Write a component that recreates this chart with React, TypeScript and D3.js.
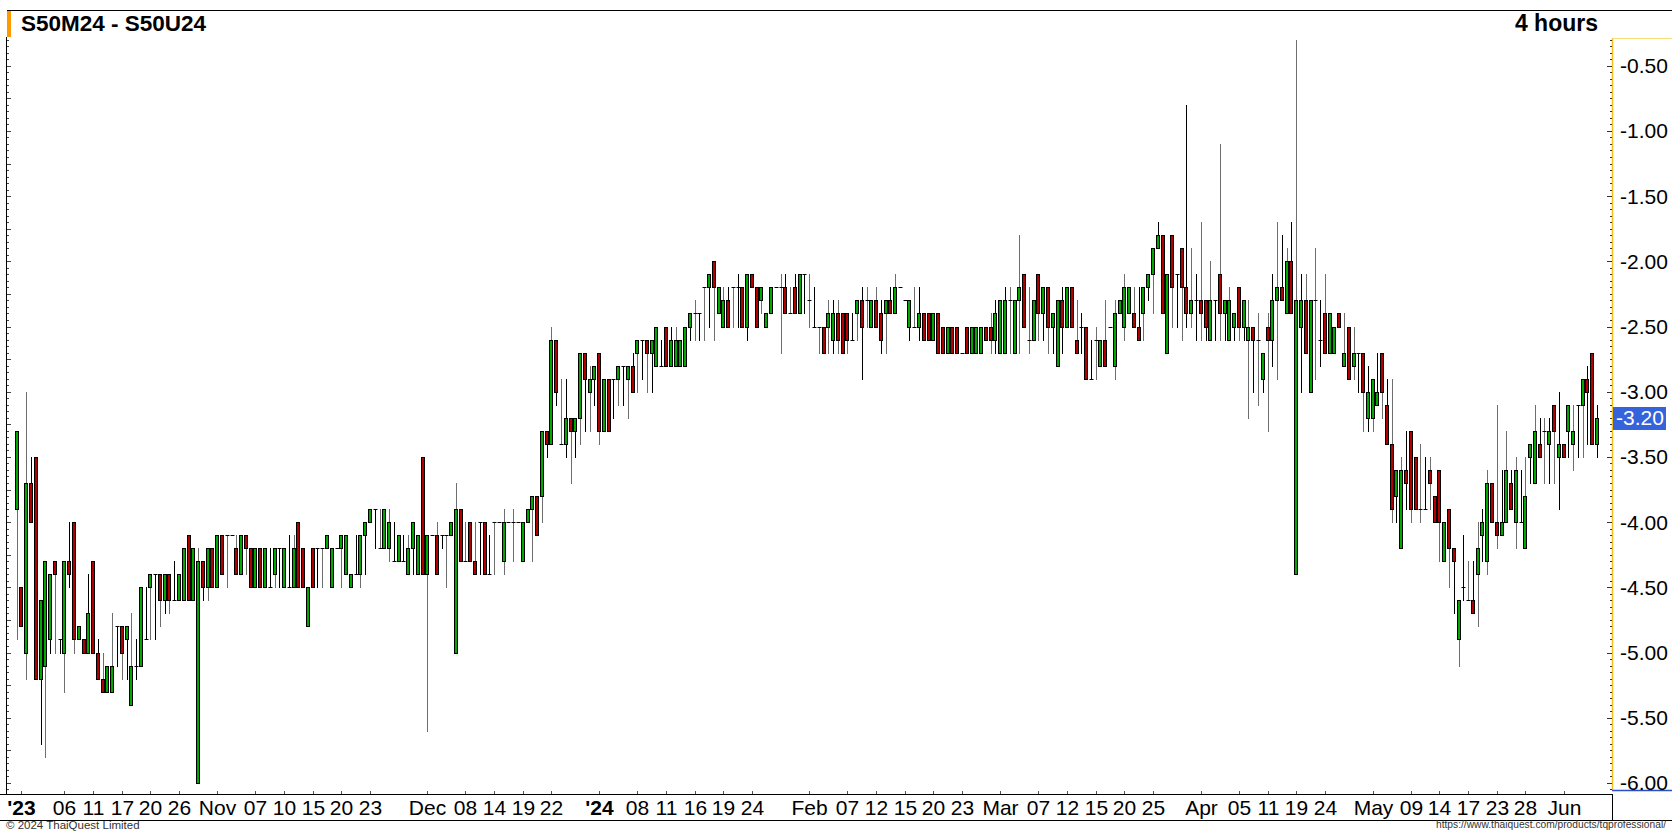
import React, { useEffect, useRef } from 'react';
import * as d3 from 'd3';

// 4-hour bars, S50M24 - S50U24 spread
const opens = [
  -3.9, -4.5, -5.0, -3.7, -3.5, -5.2, -5.1, -4.9, -4.3, -4.9,
  -5.0, -4.3, -4.0, -4.9, -4.9, -5.0, -4.3, -5.0, -5.2, -5.3,
  -5.3, -4.8, -4.8, -4.9, -5.4, -5.1, -5.1, -4.9, -4.5, -4.4,
  -4.4, -4.6, -4.4, -4.6, -4.6, -4.6, -4.1, -4.6, -6.0, -4.3,
  -4.5, -4.2, -4.5, -4.1, -4.1, -4.1, -4.2, -4.4, -4.1, -4.2,
  -4.5, -4.2, -4.5, -4.5, -4.4, -4.2, -4.5, -4.5, -4.5, -4.0,
  -4.2, -4.8, -4.2, -4.2, -4.2, -4.2, -4.5, -4.2, -4.2, -4.4,
  -4.5, -4.4, -4.4, -4.1, -4.0, -3.9, -4.2, -4.2, -4.2, -4.3,
  -4.3, -4.3, -4.4, -4.2, -4.4, -3.5, -4.4, -4.1, -4.1, -4.1,
  -4.1, -4.1, -5.0, -3.9, -4.3, -4.0, -4.3, -4.0, -4.0, -4.4,
  -4.0, -4.0, -4.3, -4.0, -4.0, -4.0, -4.3, -4.0, -3.9, -3.8,
  -3.8, -3.3, -3.4, -2.6, -3.4, -3.4, -3.2, -3.3, -3.2, -2.7,
  -3.0, -2.9, -2.7, -3.3, -2.9, -2.9, -2.9, -2.8, -2.9, -2.8,
  -2.7, -2.6, -2.6, -2.7, -2.8, -2.8, -2.5, -2.8, -2.8, -2.8,
  -2.8, -2.5, -2.4, -2.4, -2.2, -2.2, -2.0, -2.4, -2.5, -2.3,
  -2.2, -2.2, -2.2, -2.5, -2.1, -2.2, -2.3, -2.5, -2.4, -2.2,
  -2.2, -2.2, -2.4, -2.2, -2.4, -2.1, -2.3, -2.5, -2.5, -2.5,
  -2.5, -2.6, -2.4, -2.4, -2.4, -2.6, -2.4, -2.3, -2.3, -2.5,
  -2.3, -2.4, -2.4, -2.3, -2.4, -2.2, -2.3, -2.5, -2.5, -2.5,
  -2.4, -2.4, -2.6, -2.4, -2.5, -2.7, -2.5, -2.5, -2.7, -2.5,
  -2.7, -2.7, -2.7, -2.5, -2.5, -2.6, -2.7, -2.7, -2.3, -2.7,
  -2.3, -2.1, -2.6, -2.6, -2.1, -2.4, -2.2, -2.5, -2.8, -2.3,
  -2.5, -2.2, -2.6, -2.5, -2.5, -2.9, -2.6, -2.8, -2.6, -2.5,
  -2.8, -2.4, -2.5, -2.4, -2.4, -2.5, -2.4, -2.2, -2.1, -1.9,
  -1.8, -2.7, -1.8, -2.1, -1.9, -2.2, -2.4, -2.3, -2.3, -2.3,
  -2.6, -2.3, -2.1, -2.4, -2.6, -2.5, -2.2, -2.5, -2.6, -2.5,
  -2.6, -2.9, -2.5, -2.6, -2.3, -2.2, -2.4, -2.0, -4.4, -2.5,
  -2.3, -3.0, -2.3, -2.6, -2.4, -2.7, -2.7, -2.4, -2.8, -2.5,
  -2.8, -2.7, -2.7, -3.2, -3.2, -3.1, -2.7, -3.1, -3.4, -3.8,
  -4.2, -3.6, -3.3, -3.5, -3.9, -3.9, -3.6, -3.8, -3.6, -4.3,
  -3.9, -4.2, -4.9, -4.5, -4.6, -4.6, -4.4, -4.1, -4.3, -3.7,
  -4.0, -4.1, -4.0, -3.7, -4.0, -4.0, -4.2, -3.5, -3.7, -3.4,
  -3.3, -3.4, -3.1, -3.5, -3.4, -3.3, -3.4, -3.1, -3.1, -2.9,
  -2.7, -3.4,
];

const highs = [
  -3.3, -4.5, -3.0, -3.5, -3.5, -4.6, -4.3, -4.4, -4.3, -4.9,
  -4.3, -4.0, -4.0, -4.8, -4.9, -4.4, -4.3, -4.9, -5.0, -5.1,
  -4.7, -4.8, -4.8, -4.8, -4.7, -4.9, -4.5, -4.5, -4.4, -4.4,
  -4.4, -4.4, -4.4, -4.3, -4.4, -4.2, -4.1, -4.2, -4.2, -4.3,
  -4.2, -4.2, -4.1, -4.1, -4.1, -4.1, -4.1, -4.1, -4.1, -4.2,
  -4.2, -4.2, -4.2, -4.2, -4.2, -4.2, -4.2, -4.1, -4.1, -4.0,
  -4.2, -4.5, -4.2, -4.2, -4.2, -4.1, -4.2, -4.2, -4.1, -4.1,
  -4.4, -4.1, -4.1, -4.0, -3.9, -3.9, -3.9, -3.9, -3.9, -4.0,
  -4.1, -4.1, -4.1, -4.0, -4.1, -3.5, -4.1, -4.1, -4.0, -4.1,
  -4.1, -4.0, -3.7, -3.9, -4.0, -4.0, -4.0, -4.0, -4.0, -4.1,
  -4.0, -4.0, -3.9, -4.0, -3.9, -4.0, -4.0, -3.9, -3.8, -3.8,
  -3.3, -3.3, -2.5, -2.6, -2.9, -2.9, -3.2, -3.2, -2.7, -2.7,
  -2.8, -2.8, -2.7, -2.9, -2.9, -2.9, -2.8, -2.8, -2.8, -2.7,
  -2.6, -2.6, -2.6, -2.6, -2.5, -2.6, -2.5, -2.5, -2.5, -2.6,
  -2.5, -2.4, -2.3, -2.4, -2.2, -2.1, -2.0, -2.2, -2.2, -2.2,
  -2.2, -2.1, -2.2, -2.1, -2.1, -2.2, -2.2, -2.4, -2.2, -2.2,
  -2.1, -2.1, -2.2, -2.1, -2.1, -2.1, -2.1, -2.2, -2.5, -2.5,
  -2.3, -2.3, -2.3, -2.4, -2.4, -2.4, -2.3, -2.2, -2.2, -2.3,
  -2.2, -2.3, -2.3, -2.2, -2.1, -2.2, -2.3, -2.3, -2.2, -2.2,
  -2.4, -2.4, -2.4, -2.4, -2.5, -2.5, -2.5, -2.5, -2.7, -2.5,
  -2.5, -2.5, -2.5, -2.5, -2.4, -2.3, -2.3, -2.2, -2.2, -2.3,
  -1.8, -2.1, -2.2, -2.3, -2.1, -2.2, -2.2, -2.4, -2.3, -2.2,
  -2.2, -2.2, -2.3, -2.4, -2.5, -2.6, -2.5, -2.6, -2.3, -2.5,
  -2.3, -2.3, -2.1, -2.2, -2.2, -2.2, -2.2, -2.1, -1.9, -1.7,
  -1.8, -2.1, -1.8, -2.1, -1.9, -0.8, -1.9, -2.1, -1.7, -2.3,
  -2.0, -2.3, -1.1, -2.3, -2.2, -2.4, -2.2, -2.3, -2.3, -2.5,
  -2.4, -2.7, -2.4, -2.1, -1.7, -1.8, -1.9, -1.7, -0.3, -2.1,
  -2.1, -2.3, -1.9, -2.3, -2.1, -2.4, -2.5, -2.4, -2.4, -2.5,
  -2.5, -2.7, -2.7, -2.8, -2.9, -2.7, -2.7, -2.9, -2.9, -3.6,
  -3.5, -3.3, -3.3, -3.5, -3.4, -3.5, -3.5, -3.8, -3.6, -4.0,
  -3.9, -4.2, -4.6, -4.1, -4.3, -4.3, -4.0, -3.9, -3.6, -3.7,
  -3.1, -3.6, -3.3, -3.6, -3.5, -3.6, -3.5, -3.4, -3.1, -3.2,
  -3.2, -3.2, -3.1, -3.0, -3.4, -3.1, -3.1, -3.1, -2.9, -2.8,
  -2.7, -3.1,
];

const lows = [
  -4.9, -4.8, -5.2, -4.0, -5.2, -5.7, -5.8, -5.0, -5.0, -5.0,
  -5.3, -4.5, -5.0, -4.9, -5.0, -5.0, -5.0, -5.2, -5.3, -5.3,
  -5.3, -5.1, -5.2, -5.2, -5.4, -5.2, -5.1, -4.9, -4.9, -4.9,
  -4.8, -4.7, -4.7, -4.6, -4.6, -4.6, -4.6, -4.6, -6.0, -4.6,
  -4.6, -4.5, -4.5, -4.4, -4.5, -4.1, -4.4, -4.4, -4.4, -4.5,
  -4.5, -4.5, -4.5, -4.5, -4.5, -4.5, -4.5, -4.5, -4.5, -4.5,
  -4.5, -4.8, -4.5, -4.5, -4.5, -4.2, -4.5, -4.2, -4.5, -4.4,
  -4.5, -4.4, -4.5, -4.4, -4.0, -4.2, -4.2, -4.2, -4.3, -4.3,
  -4.3, -4.3, -4.4, -4.4, -4.4, -4.4, -5.6, -4.1, -4.4, -4.2,
  -4.5, -4.1, -5.0, -4.3, -4.3, -4.3, -4.4, -4.4, -4.4, -4.4,
  -4.4, -4.0, -4.4, -4.0, -4.3, -4.0, -4.3, -4.0, -4.3, -4.1,
  -4.0, -3.5, -3.4, -3.1, -3.4, -3.5, -3.7, -3.5, -3.4, -3.3,
  -3.3, -3.1, -3.4, -3.3, -3.3, -3.2, -3.1, -3.1, -3.2, -3.0,
  -3.0, -2.9, -3.0, -3.0, -2.8, -2.8, -2.8, -2.8, -2.8, -2.8,
  -2.8, -2.6, -2.6, -2.6, -2.6, -2.5, -2.6, -2.4, -2.5, -2.5,
  -2.5, -2.5, -2.5, -2.6, -2.2, -2.5, -2.4, -2.5, -2.4, -2.2,
  -2.7, -2.4, -2.4, -2.4, -2.4, -2.4, -2.5, -2.5, -2.7, -2.7,
  -2.7, -2.7, -2.7, -2.7, -2.7, -2.6, -2.6, -2.9, -2.5, -2.5,
  -2.5, -2.7, -2.7, -2.4, -2.4, -2.2, -2.3, -2.6, -2.5, -2.6,
  -2.6, -2.6, -2.6, -2.7, -2.7, -2.7, -2.7, -2.7, -2.7, -2.7,
  -2.7, -2.7, -2.7, -2.6, -2.7, -2.7, -2.7, -2.7, -2.7, -2.7,
  -2.7, -2.5, -2.7, -2.6, -2.6, -2.6, -2.7, -2.7, -2.8, -2.7,
  -2.5, -2.5, -2.7, -2.7, -2.9, -2.9, -2.9, -2.8, -2.8, -2.5,
  -2.9, -2.4, -2.6, -2.4, -2.5, -2.6, -2.6, -2.3, -2.4, -1.9,
  -2.4, -2.7, -2.5, -2.5, -2.6, -2.5, -2.5, -2.6, -2.6, -2.6,
  -2.6, -2.6, -2.6, -2.6, -2.6, -2.6, -2.6, -2.6, -3.2, -3.0,
  -3.1, -3.0, -3.3, -2.8, -2.9, -2.3, -2.4, -2.4, -4.4, -3.0,
  -2.7, -3.0, -2.9, -2.8, -2.7, -2.7, -2.7, -2.5, -2.8, -2.9,
  -2.9, -3.0, -3.3, -3.3, -3.3, -3.1, -3.2, -3.4, -4.0, -4.0,
  -4.2, -3.9, -4.0, -3.9, -4.0, -3.9, -3.9, -4.0, -4.3, -4.3,
  -4.5, -4.7, -5.1, -4.6, -4.6, -4.7, -4.8, -4.3, -4.4, -4.0,
  -4.2, -4.1, -4.0, -3.9, -4.2, -4.0, -4.2, -3.7, -3.7, -3.5,
  -3.7, -3.7, -3.7, -3.9, -3.5, -3.5, -3.6, -3.5, -3.5, -3.4,
  -3.4, -3.5,
];

const closes = [
  -3.3, -4.8, -3.7, -4.0, -5.2, -4.6, -4.3, -4.4, -4.4, -4.9,
  -4.3, -4.4, -4.9, -4.8, -5.0, -4.7, -5.0, -5.2, -5.3, -5.1,
  -5.1, -4.8, -5.0, -4.8, -5.1, -5.1, -4.5, -4.9, -4.4, -4.4,
  -4.6, -4.4, -4.6, -4.6, -4.4, -4.2, -4.6, -4.2, -4.3, -4.5,
  -4.2, -4.5, -4.1, -4.4, -4.1, -4.1, -4.4, -4.1, -4.2, -4.5,
  -4.2, -4.5, -4.2, -4.5, -4.2, -4.2, -4.2, -4.5, -4.2, -4.5,
  -4.5, -4.5, -4.5, -4.2, -4.2, -4.1, -4.2, -4.2, -4.1, -4.1,
  -4.4, -4.4, -4.1, -4.0, -3.9, -3.9, -4.2, -3.9, -4.0, -4.3,
  -4.1, -4.3, -4.2, -4.0, -4.1, -4.4, -4.1, -4.1, -4.4, -4.1,
  -4.1, -4.0, -3.9, -4.3, -4.3, -4.3, -4.4, -4.0, -4.4, -4.4,
  -4.0, -4.0, -4.0, -4.0, -4.0, -4.0, -4.0, -3.9, -3.8, -4.1,
  -3.3, -3.4, -2.6, -3.0, -3.4, -3.2, -3.3, -3.2, -2.7, -2.9,
  -2.9, -2.8, -3.3, -2.9, -3.3, -2.9, -2.8, -2.8, -2.8, -3.0,
  -2.6, -2.6, -2.7, -2.6, -2.5, -2.8, -2.8, -2.6, -2.6, -2.6,
  -2.5, -2.4, -2.4, -2.4, -2.2, -2.1, -2.2, -2.2, -2.3, -2.5,
  -2.2, -2.2, -2.5, -2.1, -2.2, -2.5, -2.2, -2.4, -2.2, -2.2,
  -2.2, -2.4, -2.4, -2.4, -2.1, -2.1, -2.3, -2.5, -2.5, -2.7,
  -2.4, -2.4, -2.6, -2.7, -2.6, -2.6, -2.3, -2.5, -2.3, -2.3,
  -2.5, -2.6, -2.3, -2.4, -2.2, -2.2, -2.3, -2.3, -2.5, -2.4,
  -2.6, -2.6, -2.4, -2.7, -2.7, -2.5, -2.7, -2.7, -2.7, -2.7,
  -2.5, -2.5, -2.5, -2.6, -2.6, -2.4, -2.3, -2.3, -2.3, -2.3,
  -2.2, -2.5, -2.6, -2.3, -2.4, -2.2, -2.5, -2.4, -2.3, -2.5,
  -2.2, -2.5, -2.7, -2.5, -2.9, -2.9, -2.6, -2.6, -2.8, -2.5,
  -2.4, -2.3, -2.2, -2.2, -2.5, -2.6, -2.2, -2.1, -1.9, -1.8,
  -2.4, -2.1, -2.2, -2.1, -2.2, -2.4, -2.3, -2.3, -2.4, -2.5,
  -2.3, -2.3, -2.4, -2.3, -2.3, -2.4, -2.5, -2.3, -2.5, -2.6,
  -2.6, -2.7, -2.6, -2.3, -2.2, -2.3, -2.0, -2.4, -2.3, -2.3,
  -2.7, -2.3, -2.3, -2.6, -2.7, -2.4, -2.5, -2.5, -2.7, -2.9,
  -2.7, -2.7, -3.0, -3.0, -2.9, -3.0, -3.0, -3.4, -3.9, -3.6,
  -3.6, -3.7, -3.9, -3.9, -3.9, -3.9, -3.7, -4.0, -4.0, -4.0,
  -4.2, -4.3, -4.6, -4.5, -4.6, -4.7, -4.2, -4.0, -3.7, -4.0,
  -4.1, -4.0, -3.6, -3.9, -3.6, -4.0, -3.8, -3.4, -3.3, -3.5,
  -3.3, -3.3, -3.3, -3.4, -3.5, -3.1, -3.3, -3.1, -2.9, -3.0,
  -3.4, -3.2,
];

// date labels on the time axis, placed at the bar index they belong to
const xTickIdx = [
  1, 10, 16, 22, 28, 34, 42, 50, 56, 62, 68, 74, 86, 94, 100, 106, 112,
  122, 130, 136, 142, 148, 154, 166, 174, 180, 186, 192, 198, 206, 214,
  220, 226, 232, 238, 248, 256, 262, 268, 274, 284, 292, 298, 304, 310,
  316, 324,
];
const xTickLabels = [
  "'23", '06', '11', '17', '20', '26', 'Nov', '07', '10', '15', '20', '23',
  'Dec', '08', '14', '19', '22', "'24", '08', '11', '16', '19', '24', 'Feb',
  '07', '12', '15', '20', '23', 'Mar', '07', '12', '15', '20', '25', 'Apr',
  '05', '11', '19', '24', 'May', '09', '14', '17', '23', '28', 'Jun',
];

const yTickValues = [-0.5, -1.0, -1.5, -2.0, -2.5, -3.0, -3.5, -4.0, -4.5, -5.0, -5.5, -6.0];

const W = 1672;
const H = 832;
const FONT = '"Liberation Sans", Arial, sans-serif';

const App: React.FC = () => {
  const ref = useRef<SVGSVGElement>(null);

  useEffect(() => {
    if (!ref.current) return;
    const svg = d3.select(ref.current);
    svg.selectAll('*').remove();

    const plotL = 7;
    const plotR = 1612;
    const plotT = 38;
    const plotB = 790;
    const axisY = 794;

    const n = closes.length;
    const x = d3.scaleLinear().domain([0, n - 1]).range([16.7, 1597]);
    const y = d3.scaleLinear().domain([-3, -6]).range([391.7, 782.9]);
    const px = (v: number) => Math.round(v) + 0.5;

    svg.append('rect').attr('width', W).attr('height', H).attr('fill', '#fff');

    // frame
    svg.append('line')
      .attr('x1', plotL).attr('x2', W).attr('y1', 10.5).attr('y2', 10.5)
      .attr('stroke', '#000');
    svg.append('rect')
      .attr('x', 7).attr('y', 11).attr('width', 4).attr('height', 26)
      .attr('fill', '#ff9900');
    svg.append('line')
      .attr('x1', 6.5).attr('x2', 6.5).attr('y1', 37).attr('y2', axisY)
      .attr('stroke', '#000');

    // left axis ticks
    const minor = d3.range(-0.3, -6.06, -0.05);
    minor.forEach(v => {
      const k = Math.round(v * 100);
      const major = k % 25 === 0;
      svg.append('line')
        .attr('x1', 7).attr('x2', 7 + (major ? 4 : 2))
        .attr('y1', px(y(v))).attr('y2', px(y(v)))
        .attr('stroke', '#444');
    });

    // right axis
    svg.append('line')
      .attr('x1', plotR + 0.5).attr('x2', plotR + 0.5).attr('y1', plotT).attr('y2', plotB)
      .attr('stroke', '#f2c01e').attr('stroke-width', 1.5);
    svg.append('line')
      .attr('x1', plotR).attr('x2', W).attr('y1', plotT + 0.5).attr('y2', plotT + 0.5)
      .attr('stroke', '#f7dc7a');
    svg.append('line')
      .attr('x1', plotR).attr('x2', W).attr('y1', plotB + 0.5).attr('y2', plotB + 0.5)
      .attr('stroke', '#2b4fc7').attr('stroke-width', 1.5);
    minor.forEach(v => {
      const k = Math.round(v * 100);
      const major = k % 50 === 0;
      svg.append('line')
        .attr('x1', plotR - (major ? 5 : 2)).attr('x2', plotR)
        .attr('y1', px(y(v))).attr('y2', px(y(v)))
        .attr('stroke', '#333');
    });
    svg.append('g')
      .selectAll('text')
      .data(yTickValues)
      .enter()
      .append('text')
      .attr('x', 1620)
      .attr('y', d => y(d))
      .attr('dy', '0.36em')
      .attr('font-family', FONT)
      .attr('font-size', 21)
      .attr('fill', '#000')
      .text(d => d.toFixed(2));

    // time axis
    svg.append('line')
      .attr('x1', 0).attr('x2', plotR + 1).attr('y1', axisY + 0.5).attr('y2', axisY + 0.5)
      .attr('stroke', '#000');
    svg.append('line')
      .attr('x1', 0).attr('x2', W).attr('y1', 820.5).attr('y2', 820.5)
      .attr('stroke', '#000');
    svg.append('line')
      .attr('x1', plotR + 0.5).attr('x2', plotR + 0.5).attr('y1', axisY).attr('y2', 821)
      .attr('stroke', '#000');
    xTickIdx.forEach((idx, j) => {
      const cx = px(x(idx));
      svg.append('line')
        .attr('x1', cx).attr('x2', cx).attr('y1', axisY - 3).attr('y2', axisY)
        .attr('stroke', '#555');
      const lab = xTickLabels[j];
      svg.append('text')
        .attr('x', cx)
        .attr('y', 815)
        .attr('text-anchor', 'middle')
        .attr('font-family', FONT)
        .attr('font-size', 21)
        .attr('font-weight', lab.startsWith("'") ? 'bold' : 'normal')
        .attr('fill', '#000')
        .text(lab);
    });

    // candles
    const g = svg.append('g');
    closes.forEach((c, i) => {
      const o = opens[i];
      const cx = px(x(i));
      const wickCol = i % 2 === 0 ? '#6e6e6e' : '#000';
      g.append('line')
        .attr('x1', cx).attr('x2', cx)
        .attr('y1', Math.round(y(highs[i]))).attr('y2', Math.round(y(lows[i])) + 1)
        .attr('stroke', wickCol);
      if (Math.abs(o - c) < 1e-6) {
        g.append('line')
          .attr('x1', cx - 2).attr('x2', cx + 2)
          .attr('y1', px(y(o))).attr('y2', px(y(o)))
          .attr('stroke', '#000');
      } else {
        const top = px(y(Math.max(o, c)));
        const bot = px(y(Math.min(o, c)));
        g.append('rect')
          .attr('x', cx - 2)
          .attr('y', top)
          .attr('width', 3)
          .attr('height', bot - top)
          .attr('fill', c > o ? '#00a800' : '#b00000')
          .attr('stroke', '#000')
          .attr('stroke-width', 1);
      }
    });

    // last value marker
    const last = closes[n - 1];
    svg.append('rect')
      .attr('x', 1613).attr('y', Math.round(y(last)) - 11)
      .attr('width', 53).attr('height', 23)
      .attr('fill', '#3563dc');
    svg.append('text')
      .attr('x', 1616).attr('y', y(last))
      .attr('dy', '0.36em')
      .attr('font-family', FONT).attr('font-size', 21)
      .attr('fill', '#fff')
      .text(last.toFixed(2));

    // titles
    svg.append('text')
      .attr('x', 21).attr('y', 31)
      .attr('font-family', FONT).attr('font-size', 22.5).attr('font-weight', 'bold')
      .attr('fill', '#000')
      .text('S50M24 - S50U24');
    svg.append('text')
      .attr('x', 1598).attr('y', 31)
      .attr('text-anchor', 'end')
      .attr('font-family', FONT).attr('font-size', 23).attr('font-weight', 'bold')
      .attr('fill', '#000')
      .text('4 hours');

    // footer
    svg.append('text')
      .attr('x', 6).attr('y', 828.5)
      .attr('font-family', FONT).attr('font-size', 11.5)
      .attr('fill', '#333')
      .text('© 2024 ThaiQuest Limited');
    svg.append('text')
      .attr('x', 1436).attr('y', 828)
      .attr('font-family', FONT).attr('font-size', 10.5)
      .attr('textLength', 230)
      .attr('lengthAdjust', 'spacingAndGlyphs')
      .attr('fill', '#333')
      .text('https://www.thaiquest.com/products/tqprofessional/');
  }, []);

  return (
    <svg
      ref={ref}
      width={W}
      height={H}
      style={{ position: 'absolute', left: 0, top: 0, display: 'block' }}
    />
  );
};

export default App;
